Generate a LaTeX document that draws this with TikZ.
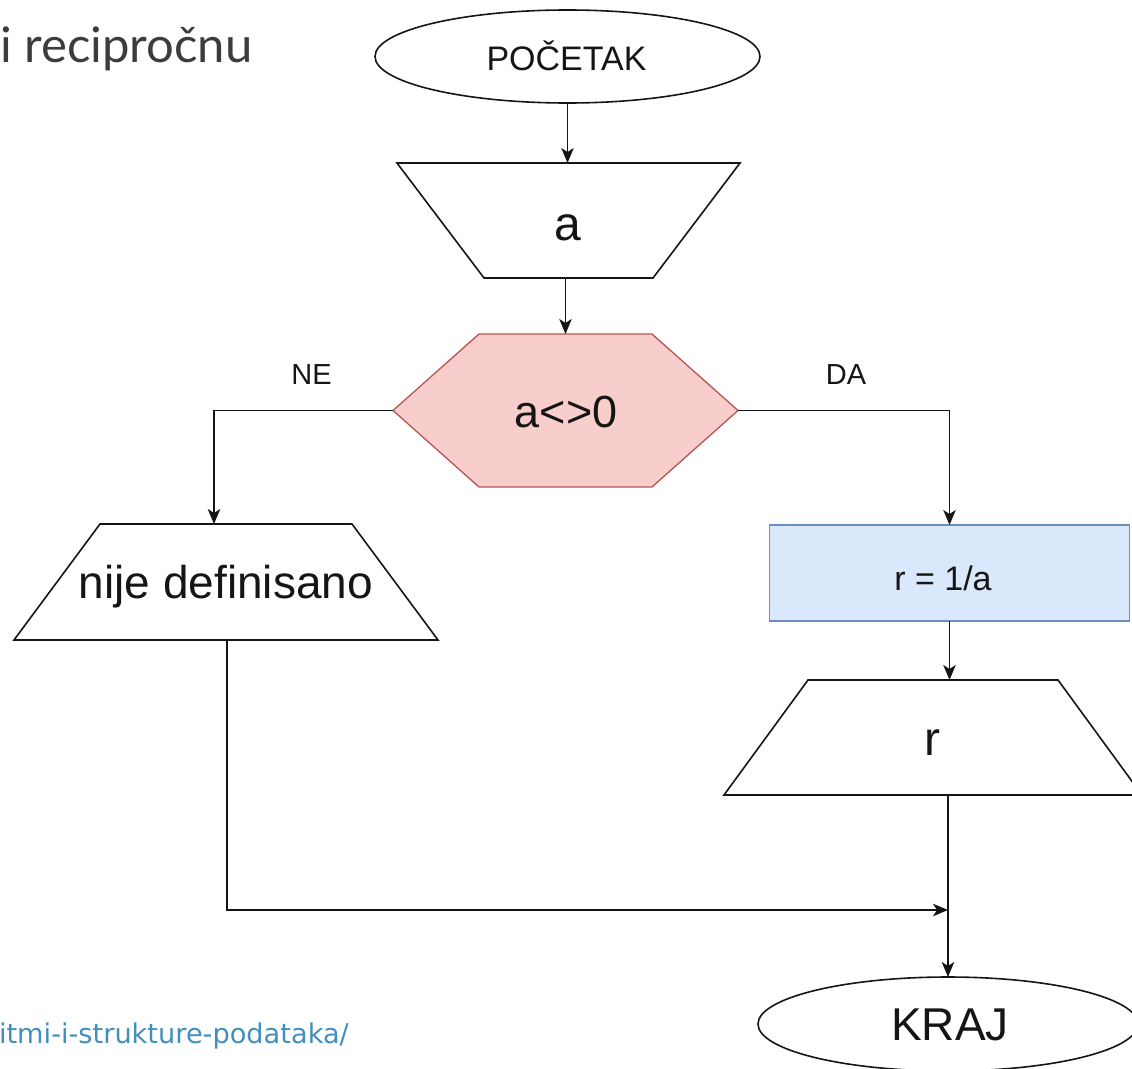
\documentclass[tikz,border=0pt]{standalone}
\usepackage{fontspec}
\setmainfont{Liberation Sans}
\newfontfamily\titlefont{Lato}
\newfontfamily\linkfont{DejaVu Sans}
\usetikzlibrary{shapes.geometric,arrows.meta}
\definecolor{ink}{HTML}{151515}
\definecolor{titlegray}{HTML}{3C3C3C}
\definecolor{linkblue}{RGB}{66,143,190}
\definecolor{decfill}{HTML}{F8CECC}
\definecolor{decline}{HTML}{B85450}
\definecolor{procfill}{HTML}{DAE8FC}
\definecolor{procline}{HTML}{6C8EBF}
\begin{document}
\begin{tikzpicture}[x=1pt,y=-1pt,
  line/.style={draw=ink, line width=1.6pt, line join=miter},
  arr/.style={line, -{Stealth[length=15pt,width=12.5pt,inset=4pt]}},
  frame/.style={inner sep=0pt, outer sep=0pt},
  lbl/.style={anchor=base, text=ink, inner sep=0pt},
  fs/.style={font=\fontsize{#1}{#1}\selectfont}]
\useasboundingbox (0,0) rectangle (1132,1068);
\clip (0,0) rectangle (1132,1068);

% page heading and source link
\node[anchor=base west, inner sep=0pt, text=titlegray,
      font=\titlefont\fontsize{49}{56}\selectfont] (title) at (0,62) {i recipročnu};
\node[anchor=base east, inner sep=0pt, text=linkblue,
      font=\linkfont\fontsize{27.2}{30}\selectfont] (link) at (349,1043) {itmi-i-strukture-podataka/};

% start
\node[frame, ellipse, line, fill=white, minimum width=385pt, minimum height=93pt] (start) at (567.5,56.5) {};
\node[lbl, fs=34] (tstart) at (566.5,70.5) {POČETAK};

% input a
\node[frame, minimum width=343pt, minimum height=115pt] (inp) at (568.5,220.5) {};
\draw[line] (inp.north west) -- (inp.north east) -- ([xshift=-87pt]inp.south east)
  -- ([xshift=87pt]inp.south west) -- cycle;
\node[lbl, fs=48] (tinp) at (567.5,240) {a};

% decision
\node[frame, minimum width=345pt, minimum height=153pt] (hex) at (565.5,410.5) {};
\draw[line, draw=decline, fill=decfill, line width=1.3pt] (hex.west) -- ([xshift=86pt]hex.north west)
  -- ([xshift=-86pt]hex.north east) -- (hex.east) -- ([xshift=-86pt]hex.south east)
  -- ([xshift=86pt]hex.south west) -- cycle;
\node[lbl, fs=45] (thex) at (566,427) {a<>0};

% output: not defined
\node[frame, minimum width=424pt, minimum height=116pt] (nije) at (226,582) {};
\draw[line] ([xshift=86pt]nije.north west) -- ([xshift=-86pt]nije.north east)
  -- (nije.south east) -- (nije.south west) -- cycle;
\node[lbl, fs=46] (tnije) at (226,598) {nije definisano};

% process r = 1/a
\node[frame, draw=procline, fill=procfill, line width=1.3pt,
      minimum width=360pt, minimum height=96pt] (calc) at (949.5,573) {};
\node[lbl, fs=34] (tcalc) at (943,590) {r = 1/a};

% output r
\node[frame, minimum width=418pt, minimum height=115pt] (rout) at (933,737.5) {};
\draw[line] ([xshift=84pt]rout.north west) -- ([xshift=-84pt]rout.north east)
  -- (rout.south east) -- (rout.south west) -- cycle;
\node[lbl, fs=48] (trout) at (932,755) {r};

% end
\node[frame, ellipse, line, fill=white, minimum width=380pt, minimum height=94pt] (kraj) at (948,1024) {};
\node[lbl, fs=46] (tkraj) at (950,1040) {KRAJ};

% branch labels
\node[lbl, fs=29] (ne) at (311.5,384) {NE};
\node[lbl, fs=29] (da) at (846,384) {DA};

% connectors
\coordinate (join) at (kraj.north |- 0,910);
\draw[arr] (start.south) -- (start.south |- inp.north);
\draw[arr] (hex.north |- inp.south) -- (hex.north);
\draw[arr] (hex.west) -| ([xshift=-12pt]nije.north);
\draw[arr] (hex.east) -| (calc.north);
\draw[arr] (calc.south) -- (calc.south |- rout.north);
\draw[arr] (rout.south -| kraj.north) -- (kraj.north);
\draw[arr] ([xshift=1pt]nije.south) |- (join);
\end{tikzpicture}
\end{document}
